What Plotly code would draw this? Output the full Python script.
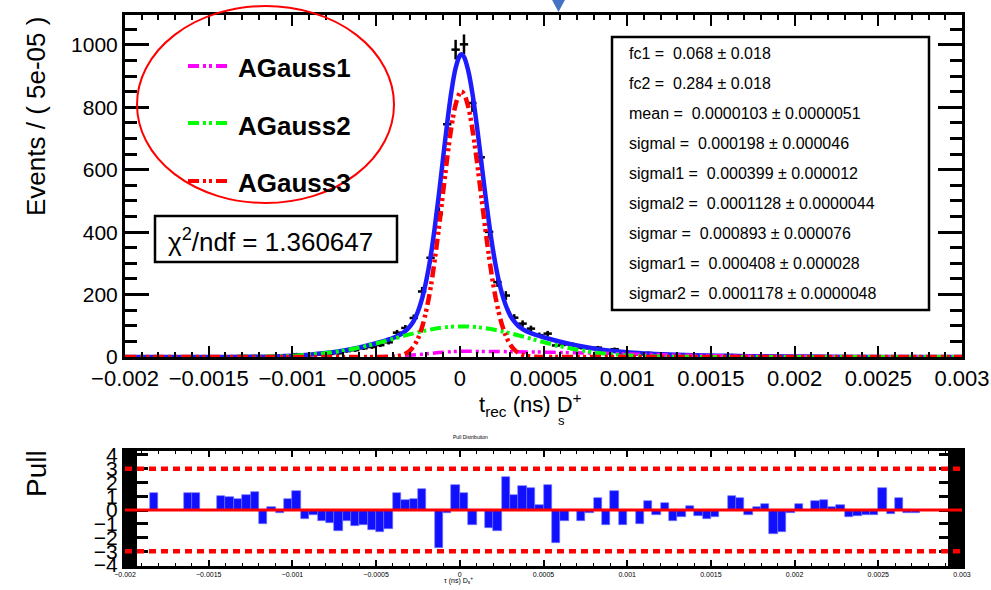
import plotly.graph_objects as go
import math

W, H = 991, 590
def px(x): return x / W
def py(y): return 1 - y / H

FONT = "Liberation Sans, Arial, Helvetica, sans-serif"

# ---------------- data ----------------
bin_lo = -0.002
bin_w = 5e-5
n_bins = 100
bin_centers = [round(bin_lo + bin_w * (i + 0.5), 7) for i in range(n_bins)]

counts = [0, 0, 0, 1, 0, 0, 0, 1, 1, 0,
          0, 1, 1, 1, 2, 3, 0, 2, 2, 5,
          9, 4, 7, 8, 10, 12, 19, 22, 28, 32,
          38, 47, 78, 93, 125, 210, 318, 458, 746, 985,
          1002, 814, 640, 401, 240, 197, 126, 107, 91, 70,
          75, 37, 41, 40, 30, 28, 30, 17, 25, 12,
          14, 9, 13, 8, 10, 5, 5, 7, 4, 3,
          3, 4, 6, 5, 2, 3, 3, 0, 0, 1,
          2, 1, 2, 2, 1, 1, 0, 0, 0, 0,
          2, 0, 1, 0, 0, 0, 0, 0, 0, 0]

pulls = [0, 0, 0, 1.21, 0, 0, 0, 1.21, 1.21, 0,
         0, 1.02, 0.92, 0.78, 1.09, 1.33, -1.02, 0.24, -0.19, 0.78,
         1.41, -0.68, -0.36, -0.78, -0.97, -1.50, -0.78, -1.14, -1.09, -1.45,
         -1.58, -1.36, 1.26, 0.73, 0.82, 1.55, 0.0, -2.79, -0.19, 1.82,
         1.26, -1.12, 0.0, -1.33, -1.50, 2.38, 1.09, 1.75, 1.58, 0.34,
         1.82, -2.38, -0.78, 0.0, -0.78, -0.19, 0.85, -1.12, 1.41, -1.12,
         0.0, -1.02, 0.68, -0.36, 0.48, -0.78, -0.53, 0.32, -0.44, -0.68,
         -0.53, 0.0, 1.02, 0.85, -0.36, 0.24, 0.44, -1.77, -1.62, -0.24,
         0.44, 0.0, 0.68, 0.73, 0.19, 0.34, -0.53, -0.44, -0.36, -0.36,
         1.58, -0.29, 0.85, -0.19, -0.19, 0, 0, 0, 0, 0]

# total fit (blue)
total_x = [-0.002, -0.0018, -0.0016, -0.0015, -0.0014, -0.0013, -0.0012, -0.0011, -0.001, -0.0009,
           -0.0008, -0.0007, -0.0006, -0.0005, -0.00045, -0.000425, -0.0004, -0.000375, -0.00035, -0.000325,
           -0.0003, -0.000275, -0.00025, -0.000225, -0.0002, -0.000175, -0.00015, -0.000125, -0.0001, -0.000075,
           -0.00005, -0.000025, 0, 0.0000103, 0.000025, 0.00005, 0.000075, 0.0001, 0.000125, 0.00015,
           0.000175, 0.0002, 0.000225, 0.00025, 0.000275, 0.0003, 0.000325, 0.00035, 0.000375, 0.0004,
           0.000425, 0.00045, 0.0005, 0.0006, 0.0007, 0.0008, 0.0009, 0.001, 0.0011, 0.0012,
           0.0013, 0.0014, 0.0015, 0.0016, 0.0018, 0.002, 0.0022, 0.0025, 0.003]
total_y = [0, 0, 0.03, 0.08, 0.19, 0.45, 1.0, 2.0, 4.0, 7.3,
           12.5, 20.1, 30.6, 44.0, 51.8, 56.1, 61.0, 66.8, 73.8, 83.5,
           97.0, 116, 145.8, 187.7, 245.5, 319.6, 413.4, 520.8, 636.7, 751,
           851, 926, 966, 970, 962, 918.5, 846, 749.6, 641, 531,
           428, 337.5, 264, 206.9, 165, 134.3, 114, 99.3, 89.5, 82.1,
           76.4, 71.6, 63.4, 49.0, 36.9, 27.3, 20.1, 14.9, 11.4, 8.8,
           6.9, 5.6, 4.6, 3.7, 2.4, 1.5, 0.9, 0.37, 0.07]

# AGauss3 (red)
g3_x = [-0.002, -0.0006, -0.00055, -0.0005, -0.00045, -0.000425, -0.0004, -0.000375, -0.00035, -0.000325,
        -0.0003, -0.000275, -0.00025, -0.000225, -0.0002, -0.000175, -0.00015, -0.000125, -0.0001, -0.000075,
        -0.00005, -0.000025, 0, 0.0000103, 0.000025, 0.00005, 0.000075, 0.0001, 0.000125, 0.00015,
        0.000175, 0.0002, 0.000225, 0.00025, 0.000275, 0.0003, 0.000325, 0.00035, 0.000375, 0.0004,
        0.000425, 0.00045, 0.000475, 0.0005, 0.00055, 0.0006, 0.003]
g3_y = [0, 0, 0, 0.03, 0.2, 0.5, 1.1, 2.6, 5.2, 10.3,
        19.3, 34.7, 59, 96.5, 150, 220, 310, 414, 527, 639,
        737, 809, 846, 850, 843, 803, 731, 636, 529, 421,
        320, 232, 161, 107, 68, 41, 24, 13.3, 7.1, 3.6,
        1.7, 0.8, 0.3, 0.15, 0, 0, 0]

# AGauss2 (green)
g2_x = [-0.002, -0.0015, -0.0012, -0.0011, -0.001, -0.0009, -0.0008, -0.0007, -0.0006, -0.0005,
        -0.0004, -0.0003, -0.0002, -0.0001, 0, 0.0001, 0.0002, 0.0003, 0.0004, 0.0005,
        0.0006, 0.0007, 0.0008, 0.0009, 0.001, 0.0011, 0.0012, 0.0015, 0.002, 0.003]
g2_y = [0, 0.08, 1.0, 2.0, 4.0, 7.3, 12.5, 20.1, 30.4, 43.3,
        57.8, 72.4, 85.3, 94.3, 98, 95.7, 87.9, 76.2, 62.1, 47.7,
        34.5, 23.5, 15.1, 9.1, 5.2, 2.8, 1.4, 0.12, 0, 0]

# AGauss1 (magenta)
g1_x = [-0.002, -0.0008, -0.0007, -0.0006, -0.0005, -0.0004, -0.0003, -0.0002, -0.0001, 0,
        0.0001, 0.0002, 0.0003, 0.0004, 0.0005, 0.0006, 0.0007, 0.0008, 0.0009, 0.001,
        0.0012, 0.0015, 0.0018, 0.002, 0.0025, 0.003]
g1_y = [0, 0, 0.03, 0.16, 0.65, 2.1, 5.3, 10.2, 15.4, 18,
        17.9, 17.6, 17.1, 16.4, 15.5, 14.5, 13.4, 12.2, 11.0, 9.7,
        7.4, 4.5, 2.4, 1.5, 0.37, 0.07]

x_tickvals = [-0.002, -0.0015, -0.001, -0.0005, 0, 0.0005, 0.001, 0.0015, 0.002, 0.0025, 0.003]
x_ticktext = ["\u22120.002", "\u22120.0015", "\u22120.001", "\u22120.0005", "0", "0.0005",
              "0.001", "0.0015", "0.002", "0.0025", "0.003"]
y_tickvals = [0, 200, 400, 600, 800, 1000]
pull_tickvals = [-4, -3, -2, -1, 0, 1, 2, 3, 4]
pull_ticktext = ["\u22124", "\u22123", "\u22122", "\u22121", "0", "1", "2", "3", "4"]

legend_names = ["AGauss1", "AGauss2", "AGauss3"]
legend_colors = ["#ff00ff", "#00ff00", "#ff0000"]
param_lines = [
    "fc1 =  0.068 \u00b1 0.018",
    "fc2 =  0.284 \u00b1 0.018",
    "mean =  0.0000103 \u00b1 0.0000051",
    "sigmal =  0.000198 \u00b1 0.000046",
    "sigmal1 =  0.000399 \u00b1 0.000012",
    "sigmal2 =  0.0001128 \u00b1 0.0000044",
    "sigmar =  0.000893 \u00b1 0.000076",
    "sigmar1 =  0.000408 \u00b1 0.000028",
    "sigmar2 =  0.0001178 \u00b1 0.0000048",
]
chi2_text = "\u03c7<sup>2</sup>/ndf = 1.360647"

DASH = "11px,4px,3px,3px,3px,4px"

# ---------------- figure ----------------
fig = go.Figure()

fig.add_trace(go.Scatter(
    x=bin_centers, y=counts, mode="markers",
    marker=dict(size=3, color="black"),
    error_x=dict(type="constant", value=bin_w / 2, thickness=2.5, width=0, color="black"),
    error_y=dict(type="data", array=[math.sqrt(c) for c in counts], thickness=2.5, width=0, color="black"),
    xaxis="x", yaxis="y", showlegend=False, cliponaxis=True))

fig.add_trace(go.Scatter(x=total_x, y=total_y, mode="lines", line=dict(color="#1c1cff", width=4.5, shape="spline"),
                         name="total", xaxis="x", yaxis="y", showlegend=False))
fig.add_trace(go.Scatter(x=g1_x, y=g1_y, mode="lines",
                         line=dict(color=legend_colors[0], width=3.5, dash=DASH, shape="spline"),
                         name=legend_names[0], xaxis="x", yaxis="y", showlegend=False))
fig.add_trace(go.Scatter(x=g2_x, y=g2_y, mode="lines",
                         line=dict(color=legend_colors[1], width=4, dash=DASH, shape="spline"),
                         name=legend_names[1], xaxis="x", yaxis="y", showlegend=False))
fig.add_trace(go.Scatter(x=g3_x, y=g3_y, mode="lines",
                         line=dict(color=legend_colors[2], width=4.5, dash=DASH, shape="spline"),
                         name=legend_names[2], xaxis="x", yaxis="y", showlegend=False))

# pull bars
fig.add_trace(go.Bar(x=bin_centers, y=pulls, width=bin_w, marker=dict(color="#1010ff", line=dict(color="#7070ff", width=0.6)),
                     xaxis="x2", yaxis="y2", showlegend=False))

X0, X1 = 125, 962
TOP0, TOP1 = 15, 357
P0, P1 = 451, 566

common_x = dict(range=[-0.002, 0.003], tickmode="array", tickvals=x_tickvals, ticktext=x_ticktext,
                showline=True, linecolor="black", mirror="allticks", ticks="inside", automargin=False,
                showgrid=False, zeroline=False, tickcolor="black")

fig.update_layout(
    width=W, height=H, margin=dict(l=0, r=0, t=0, b=0, autoexpand=False),
    paper_bgcolor="white", plot_bgcolor="white",
    font=dict(family=FONT, color="black"),
    bargap=0,
    xaxis=dict(domain=[px(X0), px(X1)], anchor="y", linewidth=3, ticklen=11, tickwidth=2,
               tickfont=dict(size=22), **common_x,
               minor=dict(ticks="inside", tick0=-0.002, dtick=0.0001, ticklen=5, tickwidth=1.5, tickcolor="black")),
    yaxis=dict(domain=[py(TOP1), py(TOP0)], anchor="x", range=[0, 1096], tickmode="array", tickvals=y_tickvals,
               showline=True, linecolor="black", linewidth=3, mirror="allticks", ticks="inside", ticklen=24,
               tickwidth=2.5, tickcolor="black", showgrid=False, zeroline=False, tickfont=dict(size=21),
               automargin=False,
               minor=dict(ticks="inside", tick0=0, dtick=50, ticklen=12, tickwidth=2.5, tickcolor="black")),
    xaxis2=dict(domain=[px(X0), px(X1)], anchor="y2", linewidth=3, ticklen=6, tickwidth=1.5,
                tickfont=dict(size=7), **common_x,
                minor=dict(ticks="inside", tick0=-0.002, dtick=0.0001, ticklen=3, tickwidth=1, tickcolor="black")),
    yaxis2=dict(domain=[py(P1), py(P0)], anchor="x2", range=[-4.07, 4.29], tickmode="array",
                tickvals=pull_tickvals, ticktext=pull_ticktext, automargin=False,
                showline=True, linecolor="black", linewidth=3, mirror="allticks", ticks="inside", ticklen=23,
                tickwidth=3, tickcolor="black", showgrid=False, zeroline=False, tickfont=dict(size=21)),
)

shapes = []
# pull reference lines
shapes.append(dict(type="line", xref="x2", yref="y2", x0=-0.002, x1=0.003, y0=0, y1=0,
                   line=dict(color="red", width=3), layer="above"))
for lv in (3, -3):
    shapes.append(dict(type="line", xref="x2", yref="y2", x0=-0.002, x1=0.003, y0=lv, y1=lv,
                       line=dict(color="red", width=4.5, dash="7px,5px"), layer="above"))
# thick black side bars of pull pad
shapes.append(dict(type="rect", xref="paper", yref="paper", x0=px(125), x1=px(137), y0=py(P1), y1=py(P0),
                   fillcolor="black", line=dict(width=0), layer="below"))
shapes.append(dict(type="rect", xref="paper", yref="paper", x0=px(948), x1=px(962), y0=py(P1), y1=py(P0),
                   fillcolor="black", line=dict(width=0), layer="below"))
# legend ellipse
shapes.append(dict(type="circle", xref="paper", yref="paper", x0=px(137), x1=px(394), y0=py(203), y1=py(6),
                   line=dict(color="red", width=2)))
# legend samples
for i, (nm, col) in enumerate(zip(legend_names, legend_colors)):
    yy = [66, 123, 181][i]
    shapes.append(dict(type="line", xref="paper", yref="paper", x0=px(188), x1=px(228), y0=py(yy), y1=py(yy),
                       line=dict(color=col, width=4, dash=DASH)))
# chi2 box
shapes.append(dict(type="rect", xref="paper", yref="paper", x0=px(155), x1=px(397), y0=py(262), y1=py(216),
                   line=dict(color="black", width=2.5), fillcolor="rgba(0,0,0,0)"))
# parameter box
shapes.append(dict(type="rect", xref="paper", yref="paper", x0=px(612), x1=px(929), y0=py(310), y1=py(37),
                   line=dict(color="black", width=2.5), fillcolor="rgba(0,0,0,0)"))
# blue triangle marker at top
shapes.append(dict(type="path", xref="paper", yref="paper",
                   path=f"M {px(551)},{py(-2)} L {px(566)},{py(-2)} L {px(558.5)},{py(12)} Z",
                   fillcolor="#4472c4", line=dict(width=0)))
fig.update_layout(shapes=shapes)

ann = []
def A(x, y, text, size, **kw):
    d = dict(xref="paper", yref="paper", x=px(x), y=py(y), text=text, showarrow=False,
             font=dict(size=size, family=FONT, color="black"))
    d.update(kw)
    ann.append(d)

for i, nm in enumerate(legend_names):
    A(236, [68, 126, 183][i], f"<b>{nm}</b>", 26, xanchor="left", yanchor="middle")
A(166, 240, chi2_text, 26, xanchor="left", yanchor="middle")
for i, t in enumerate(param_lines):
    A(627, 53 + 30.1 * i, t, 16, xanchor="left", yanchor="middle")
A(36, 117, "Events / ( 5e-05 )", 26, textangle=-90, xanchor="center", yanchor="middle")
A(477, 405, "t<sub>rec</sub> (ns) D<sup>+</sup>", 22, xanchor="left", yanchor="middle")
A(556, 420, "s", 13, xanchor="left", yanchor="middle")
A(36, 474, "Pull", 28, textangle=-90, xanchor="center", yanchor="middle")
A(470, 437, "Pull Distribution", 5, xanchor="center", yanchor="middle")
A(458, 580, "\u03c4 (ns) D<sub>s</sub><sup>+</sup>", 7, xanchor="center", yanchor="middle")
fig.update_layout(annotations=ann)

fig.write_html("out.html")
